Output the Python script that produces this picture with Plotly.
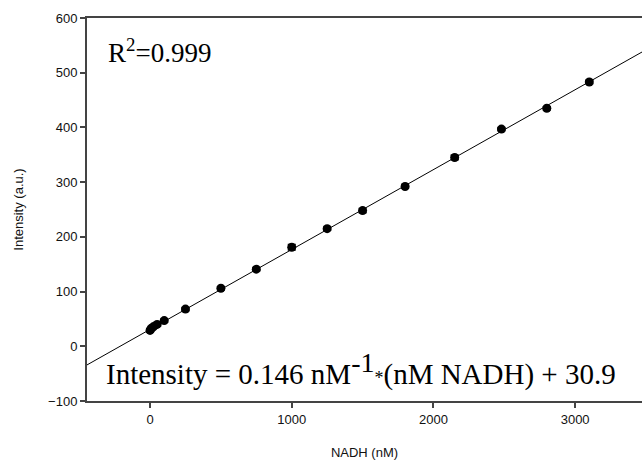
import plotly.graph_objects as go

# Data
nadh_nM = [0, 10, 25, 50, 100, 250, 500, 750, 1000, 1250, 1500, 1800, 2150, 2480, 2800, 3100]
intensity = [29, 33, 36, 40, 47, 68, 106, 141, 181, 215, 248, 292, 345, 397, 435, 483]
intensity_err = [3, 3, 3, 3, 3, 3, 3, 3, 5, 3, 4, 3, 4, 3, 3, 3]

fit_slope = 0.146
fit_intercept = 30.9
fit_x = [-445, 3472]
fit_y = [fit_slope * x + fit_intercept for x in fit_x]

x_ticks = [0, 1000, 2000, 3000]
y_ticks = [-100, 0, 100, 200, 300, 400, 500, 600]

fig = go.Figure()
fig.add_trace(go.Scatter(
    x=fit_x, y=fit_y, mode="lines",
    line=dict(color="black", width=1), showlegend=False, hoverinfo="skip"))
fig.add_trace(go.Scatter(
    x=nadh_nM, y=intensity, mode="markers",
    marker=dict(color="black", size=9),
    error_y=dict(type="data", array=intensity_err, color="black", thickness=1.5, width=4),
    showlegend=False))

axis_font = dict(family="Liberation Sans, Arial, sans-serif", size=13, color="#111")
serif = "Liberation Serif, Times New Roman, serif"
fig.update_layout(
    width=642, height=462,
    margin=dict(l=87, r=0, t=18, b=61),
    paper_bgcolor="white", plot_bgcolor="white",
    xaxis=dict(range=fit_x, tickvals=x_ticks, ticks="outside", ticklen=5, tickwidth=1.5,
               tickcolor="#444", showline=True, linecolor="#444", linewidth=2, mirror=True,
               showgrid=False, zeroline=False, tickfont=axis_font,
               title=dict(text="NADH (nM)", font=axis_font, standoff=22)),
    yaxis=dict(range=[-100, 600], tickvals=y_ticks, ticks="outside", ticklen=5, tickwidth=1.5,
               tickcolor="#444", showline=True, linecolor="#444", linewidth=2, mirror=False,
               showgrid=False, zeroline=False, tickfont=axis_font,
               title=dict(text="Intensity (a.u.)", font=axis_font, standoff=22)),
    annotations=[
        dict(text="R<sup>2</sup>=0.999", xref="paper", yref="paper", x=0.035, y=0.915,
             xanchor="left", yanchor="middle", showarrow=False,
             font=dict(family=serif, size=27, color="black")),
        dict(text="Intensity = 0.146 nM<sup><span style='font-size:28px'>-1</span></sup>"
                  "<span style='font-size:18px'>*</span>(nM NADH) + 30.9",
             xref="paper", yref="paper", x=0.03, y=0.083,
             xanchor="left", yanchor="middle", showarrow=False,
             font=dict(family=serif, size=29, color="black")),
    ],
)
fig.write_html("out.html")
